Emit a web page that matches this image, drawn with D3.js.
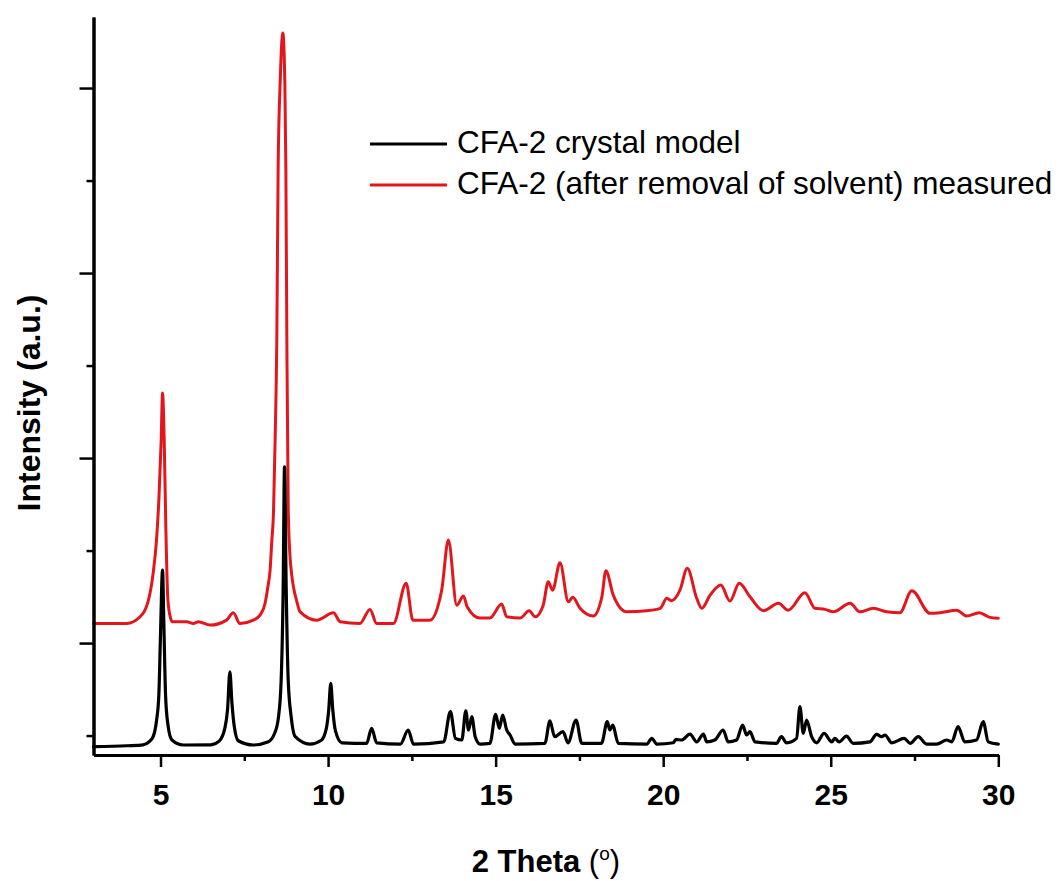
<!DOCTYPE html>
<html>
<head>
    <meta charset="utf-8" />
    <title>CFA-2 PXRD</title>
    <script src="https://d3js.org/d3.v7.min.js"></script>
    <style>
      body {
    margin: 0;
    padding: 0;
    background: #fff;
}

svg {
    display: block;
    background: #fff;
}

.axis path, .axis line {
    fill: none;
    stroke: #000;
}

.axis path {
    stroke-width: 3;
}

.axis line {
    stroke-width: 2.5;
}

.axis text {
    fill: #000;
    font-family: 'Liberation Sans', Arial, sans-serif;
    font-weight: bold;
    font-size: 30px;
}

.trace {
    fill: none;
    stroke-linejoin: round;
    stroke-linecap: round;
}

.legend text, .title {
    font-family: 'Liberation Sans', Arial, sans-serif;
    fill: #000;
}
    </style>
</head>
<body>
    <script>
// x: 2 Theta (deg), y: intensity (a.u.)
var seriesNames = ["CFA-2 crystal model", "CFA-2 (after removal of solvent) measured"];

var crystalModel = [
    [3.0, -56], [4.0, -55.5], [4.48, -55], [4.65, -53.5], [4.78, -50.6], [4.88, -42], [4.95, -28],
    [5.0, 5], [5.06, 39.5], [5.1, 10], [5.15, -28], [5.22, -44], [5.34, -52.4], [5.68, -55.1],
    [6.5, -55], [6.75, -53], [6.92, -46], [7.0, -36], [7.07, -15.5], [7.13, -32], [7.2, -45],
    [7.32, -52.8], [7.77, -55.1], [8.2, -53.5], [8.4, -49], [8.52, -40], [8.6, -20], [8.66, 30],
    [8.7, 95.3], [8.75, 30], [8.81, -20], [8.9, -40], [9.02, -50.6], [9.46, -54.6], [9.8, -52.5],
    [9.95, -46], [10.02, -36], [10.08, -21.8], [10.14, -36], [10.22, -47.5], [10.41, -53.9],
    [11.15, -54.2], [11.3, -46.1], [11.45, -53.9], [12.16, -54.6], [12.39, -47], [12.55, -54.6],
    [13.45, -53.4], [13.65, -37.1], [13.8, -51.5], [13.99, -52.4], [14.11, -36.6], [14.19, -47],
    [14.29, -39.8], [14.39, -50.6], [14.54, -54.6], [14.83, -54.2], [15.0, -38.5], [15.11, -46.1],
    [15.21, -38.9], [15.33, -47], [15.43, -49.7], [15.58, -54.6], [16.47, -54.2], [16.62, -42],
    [16.76, -50.6], [17.01, -47.9], [17.16, -53.9], [17.4, -41.6], [17.57, -54.2], [18.16, -54.2],
    [18.33, -42.5], [18.41, -47], [18.49, -44.3], [18.66, -54.2], [19.51, -54.6], [19.66, -51.5],
    [19.81, -54.6], [20.3, -53.9], [20.38, -52.1], [20.55, -52.4], [20.8, -49.2], [21.0, -53.4],
    [21.2, -49.2], [21.3, -53.4], [21.54, -52.4], [21.79, -47], [21.94, -53.4], [22.19, -52.4],
    [22.37, -44.3], [22.49, -49.7], [22.59, -47.9], [22.74, -53.4], [23.38, -54.2], [23.53, -50.6],
    [23.68, -53.9], [23.98, -51.5], [24.08, -34.4], [24.18, -48.8], [24.28, -41.6], [24.43, -50.6],
    [24.58, -53.9], [24.8, -48.8], [25.03, -53.4], [25.12, -51.5], [25.25, -53.4], [25.47, -50.3],
    [25.67, -54.2], [26.17, -53.4], [26.37, -49.4], [26.52, -50.6], [26.62, -49.7], [26.82, -53.9],
    [27.19, -51.5], [27.37, -54.2], [27.61, -50.6], [27.86, -54.6], [28.16, -54.6], [28.46, -52.4],
    [28.61, -53.4], [28.8, -45.2], [29.0, -53.4], [29.35, -52.4], [29.55, -42.5], [29.7, -53.4],
    [30.0, -54.6]
];

var measured = [
    [3.0, 10.6], [3.99, 10.6], [4.39, 14.2], [4.64, 23.2], [4.78, 37.8], [4.88, 55.7], [4.95, 77.3],
    [5.02, 109.7], [5.06, 135.1], [5.11, 109.7], [5.16, 61.1], [5.22, 23.2], [5.3, 13.5],
    [5.35, 11.5], [5.78, 11.5], [5.98, 10.6], [6.13, 11.5], [6.48, 9.7], [6.97, 12.4], [7.17, 16.4],
    [7.37, 10.6], [7.77, 12.4], [7.97, 15.1], [8.12, 21.5], [8.2, 30], [8.27, 39.5], [8.32, 55],
    [8.37, 70], [8.42, 110], [8.47, 163.8], [8.51, 257], [8.57, 302.7], [8.65, 329.7], [8.71, 302.7],
    [8.74, 257], [8.77, 163.8], [8.81, 73.7], [8.86, 48], [8.91, 37.7], [8.97, 30], [9.06, 23],
    [9.16, 17], [9.66, 12.4], [10.16, 16.4], [10.36, 11.5], [10.95, 10.6], [11.25, 18.2],
    [11.45, 10.6], [11.95, 10.6], [12.33, 32.4], [12.53, 12.4], [13.04, 12.4], [13.39, 28.6],
    [13.59, 55.7], [13.84, 20.5], [14.04, 25.4], [14.15, 19.6], [14.53, 13.5], [14.83, 13.5],
    [15.18, 21.1], [15.33, 14.2], [15.73, 13.5], [16.0, 17.5], [16.18, 14.2], [16.42, 20.5],
    [16.57, 33.1], [16.7, 28.6], [16.92, 43.4], [17.17, 22.3], [17.3, 24.7], [17.52, 18.8],
    [17.91, 14.6], [18.17, 25.0], [18.29, 39.1], [18.51, 25.9], [18.91, 16.9], [19.51, 17.5],
    [19.91, 18.8], [20.11, 24.2], [20.25, 22.9], [20.5, 28.6], [20.72, 40.4], [21.0, 24.2],
    [21.15, 18.8], [21.4, 25.9], [21.72, 31.4], [21.99, 22.7], [22.27, 32.3], [22.59, 25.0],
    [22.99, 17.5], [23.44, 21.5], [23.73, 17.8], [24.23, 27.2], [24.53, 18.8], [24.83, 18.2],
    [25.08, 16.9], [25.58, 21.5], [25.87, 16.9], [26.27, 18.8], [26.67, 16.9], [27.06, 16.4],
    [27.42, 28.3], [27.96, 16.1], [28.26, 16.4], [28.76, 17.8], [29.06, 14.6], [29.43, 16.4],
    [29.75, 13.9], [30.0, 13.4]
];

var xMajorTicks = [5, 10, 15, 20, 25, 30];
var xMinorTicks = [7.5, 12.5, 17.5, 22.5, 27.5];
var yMajorTicks = [0, 100, 200, 300];
var yMinorTicks = [-50, 50, 150, 250];

var Chart = (function (window, d3) {

    var width = 1061, height = 881;
    var left = 93.5, right = 998.3, top = 17, bottom = 755;

    var svg = d3.select("body").append("svg")
        .attr("width", width)
        .attr("height", height);

    var x = d3.scaleLinear().domain([3, 30]).range([left, right]);
    var y = d3.scaleLinear().domain([-60.5, 338.4]).range([bottom, top]);

    var valueLine = d3.line()
        .curve(d3.curveMonotoneX)
        .x(function (d) { return x(d[0]); })
        .y(function (d) { return y(d[1]); });

    //traces
    svg.append("path").datum(measured)
        .classed("trace", true)
        .attr("stroke", "#e2161c")
        .attr("stroke-width", 3)
        .attr("d", valueLine);

    svg.append("path").datum(crystalModel)
        .classed("trace", true)
        .attr("stroke", "#000")
        .attr("stroke-width", 3.2)
        .attr("d", valueLine);

    //x axis
    var xAxis = d3.axisBottom(x).tickValues(xMajorTicks).tickSize(12).tickSizeOuter(0)
        .tickFormat(d3.format("d"));
    var xMinor = d3.axisBottom(x).tickValues(xMinorTicks).tickSize(6).tickSizeOuter(0)
        .tickFormat("");

    svg.append("g").classed("x axis", true)
        .attr("transform", "translate(0," + bottom + ")")
        .call(xMinor);
    var gx = svg.append("g").classed("x axis", true)
        .attr("transform", "translate(0," + bottom + ")")
        .call(xAxis);
    gx.selectAll("text").attr("y", 50).attr("dy", 0);

    //y axis (no labels)
    var yAxis = d3.axisLeft(y).tickValues(yMajorTicks).tickSize(14).tickSizeOuter(0).tickFormat("");
    var yMinor = d3.axisLeft(y).tickValues(yMinorTicks).tickSize(7).tickSizeOuter(0).tickFormat("");

    svg.append("g").classed("y axis", true)
        .attr("transform", "translate(" + left + ",0)")
        .call(yMinor);
    svg.append("g").classed("y axis", true)
        .attr("transform", "translate(" + left + ",0)")
        .call(yAxis);

    //axis titles
    var xt = svg.append("text").classed("title", true)
        .attr("x", (left + right) / 2)
        .attr("y", 872)
        .attr("text-anchor", "middle")
        .style("font-size", "31px");
    xt.append("tspan").style("font-weight", "bold").text("2 Theta ");
    xt.append("tspan").text("(");
    xt.append("tspan").attr("dy", -12).style("font-size", "19px").text("o");
    xt.append("tspan").attr("dy", 12).text(")");

    svg.append("text").classed("title", true)
        .attr("transform", "translate(40," + 403 + ") rotate(-90)")
        .attr("text-anchor", "middle")
        .style("font-size", "32px")
        .style("font-weight", "bold")
        .text("Intensity (a.u.)");

    //legend
    var legend = svg.append("g").classed("legend", true);
    var colors = ["#000", "#e2161c"];
    var legendY = [144, 185];
    seriesNames.forEach(function (name, i) {
        legend.append("line")
            .attr("x1", 370).attr("x2", 447)
            .attr("y1", legendY[i]).attr("y2", legendY[i])
            .attr("stroke", colors[i])
            .attr("stroke-width", 3);
        legend.append("text")
            .attr("x", 457)
            .attr("y", legendY[i] + 9)
            .style("font-size", "31.5px")
            .text(name);
    });

    return { svg: svg };
})(window, d3);
    </script>
</body>
</html>
